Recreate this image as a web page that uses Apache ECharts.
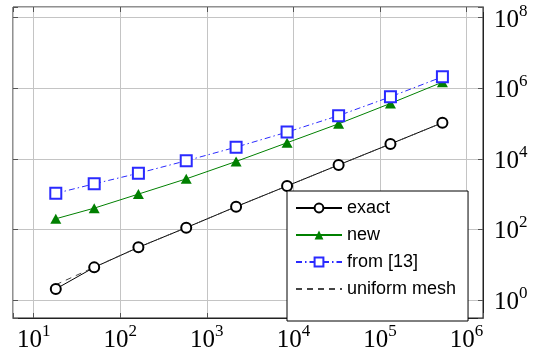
<!DOCTYPE html>
<html>
<head>
<meta charset="utf-8">
<script src="https://cdn.jsdelivr.net/npm/echarts@6/dist/echarts.min.js"></script>
<style>
    html, body { margin: 0; padding: 0; background: #fff; }
    #chart { width: 537px; height: 360px; }
</style>
</head>
<body>
<div id="chart"></div>
<script>
    // degrees of freedom (x) and the four curves (y)
    var dofs = [18, 50, 162, 578, 2178, 8450, 33282, 132098, 526338]
    var exact = [2.05, 8.4, 31, 112, 440, 1700, 6700, 26300, 105000]
    var newVals = [200, 400, 1000, 2700, 8400, 28500, 98000, 370000, 1480000]
    var from13 = [1050, 1950, 3900, 8800, 21400, 57000, 167000, 570000, 2100000]
    var uniform = [2.7, 8.5, 31, 112, 440, 1700, 6700, 26300, 105000]

    var names = ['exact', 'new', 'from [13]', 'uniform mesh']

    function pairs(ys) {
        return dofs.map(function (x, i) { return [x, ys[i]] })
    }

    var serif = 'Liberation Serif'
    var gridColor = '#c4c4c4'
    var tickColor = '#555'

    var powLabel = {
        fontFamily: serif,
        color: '#000',
        formatter: function (value) {
            var e = Math.log10(value)
            if (Math.abs(e - Math.round(e)) > 1e-6) return ''
            return '{b|10}{s|' + Math.round(e) + '}'
        },
        rich: {
            b: { fontFamily: serif, fontSize: 25, lineHeight: 30, verticalAlign: 'bottom', color: '#000' },
            s: { fontFamily: serif, fontSize: 17, lineHeight: 22, verticalAlign: 'top', color: '#000' }
        }
    }

    var xMin = Math.pow(10, 0.761), xMax = Math.pow(10, 6.19)
    var yMin = Math.pow(10, -0.51), yMax = Math.pow(10, 8.3)

    var chart = echarts.init(document.getElementById('chart'))
    chart.setOption({
        animation: false,
        grid: {
            left: 13,
            right: 54,
            top: 7,
            bottom: 42,
            show: true,
            borderColor: '#222',
            borderWidth: 1
        },
        legend: {
            data: [
                names[0],
                names[1],
                names[2],
                // dashed line only, no mark
                { name: names[3], itemStyle: { color: 'rgba(0,0,0,0)', borderColor: 'rgba(0,0,0,0)', borderWidth: 0 } }
            ],
            orient: 'vertical',
            left: 287,
            top: 191,
            padding: [7, 12, 22, 8],
            itemGap: 7,
            itemWidth: 46,
            itemHeight: 11,
            backgroundColor: '#fff',
            borderColor: '#000',
            borderWidth: 1,
            borderRadius: 0,
            textStyle: { fontFamily: 'Liberation Sans', fontSize: 18, lineHeight: 20, color: '#000' }
        },
        xAxis: [
            {
                type: 'log',
                logBase: 10,
                min: xMin,
                max: xMax,
                axisLine: { lineStyle: { color: '#222' } },
                axisTick: { inside: true, length: 5, lineStyle: { color: tickColor } },
                splitLine: { show: true, lineStyle: { color: gridColor, width: 1 } },
                minorTick: { show: false },
                axisLabel: Object.assign({ margin: 5 }, powLabel)
            },
            {
                type: 'log',
                logBase: 10,
                position: 'top',
                min: xMin,
                max: xMax,
                axisLine: { show: false },
                axisTick: { inside: true, length: 5, lineStyle: { color: tickColor } },
                splitLine: { show: false },
                axisLabel: { show: false }
            }
        ],
        yAxis: [
            {
                type: 'log',
                logBase: 100,
                position: 'right',
                min: yMin,
                max: yMax,
                axisLine: { show: true, lineStyle: { color: '#222' } },
                axisTick: { inside: true, length: 5, lineStyle: { color: tickColor } },
                splitLine: { show: true, lineStyle: { color: gridColor, width: 1 } },
                axisLabel: Object.assign({ margin: 11 }, powLabel)
            },
            {
                type: 'log',
                logBase: 100,
                position: 'left',
                min: yMin,
                max: yMax,
                axisLine: { show: false },
                axisTick: { inside: true, length: 5, lineStyle: { color: tickColor } },
                splitLine: { show: false },
                axisLabel: { show: false }
            }
        ],
        series: [
            {
                name: 'exact',
                type: 'line',
                data: pairs(exact),
                symbol: 'emptyCircle',
                symbolSize: 10,
                itemStyle: { color: '#000', borderWidth: 1 },
                lineStyle: { color: '#000', width: 1 }
            },
            {
                name: 'new',
                type: 'line',
                data: pairs(newVals),
                symbol: 'triangle',
                symbolSize: [11, 10],
                itemStyle: { color: '#008000' },
                lineStyle: { color: '#008000', width: 1 }
            },
            {
                name: 'from [13]',
                type: 'line',
                data: pairs(from13),
                symbol: 'emptyRect',
                symbolSize: 11,
                itemStyle: { color: '#2a2aff', borderWidth: 1 },
                lineStyle: { color: '#2a2aff', width: 1, type: [6, 3, 1.5, 3] }
            },
            {
                name: 'uniform mesh',
                type: 'line',
                data: pairs(uniform),
                symbol: 'none',
                itemStyle: { color: '#444' },
                lineStyle: { color: '#444', width: 1, type: [6, 5] }
            }
        ]
    })
</script>
</body>
</html>
